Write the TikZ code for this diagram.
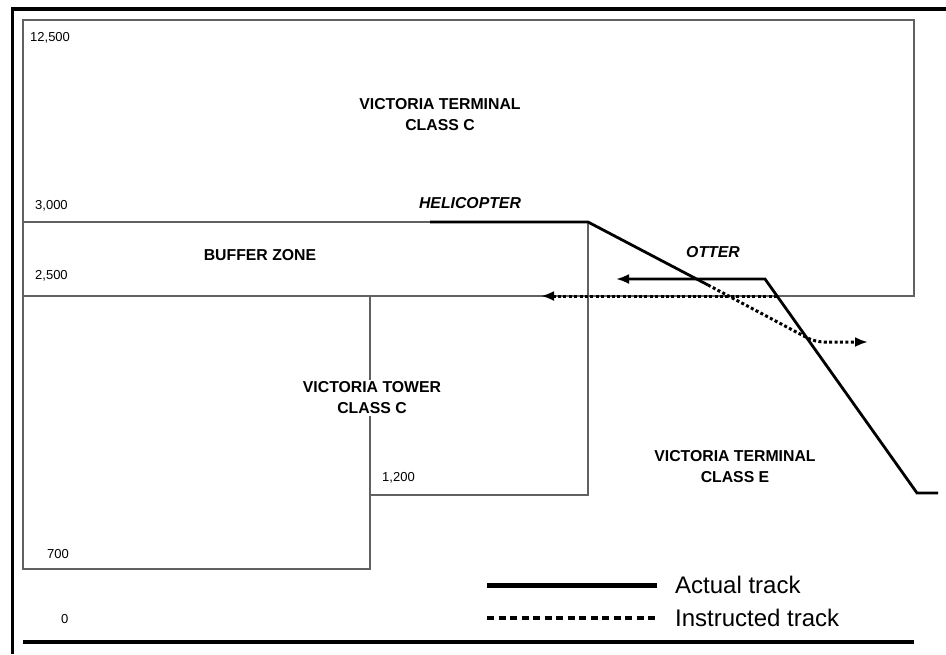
\documentclass[tikz,border=0pt]{standalone}
\usepackage{fontspec}
\setmainfont{Liberation Sans}
\usetikzlibrary{positioning,arrows.meta}

\begin{document}
\begin{tikzpicture}[
  x=1pt, y=-1pt,
  >={Latex[length=13pt,width=10pt]},
  frame/.style={line width=3.6pt, line join=miter},
  zone/.style={draw=black!62, line width=1.1pt},
  actual/.style={line width=2.8pt, line join=miter},
  instructed/.style={line width=3pt, dash pattern=on 3pt off 2.4pt},
  zonelabel/.style={font=\fontsize{15.8}{21}\selectfont\bfseries, align=center, inner sep=2pt},
  acftlabel/.style={font=\fontsize{15.8}{19}\selectfont\bfseries\itshape, inner sep=1pt},
  alt/.style={font=\fontsize{13}{15}\selectfont, anchor=west, inner sep=0pt},
  legtext/.style={font=\fontsize{24}{26}\selectfont, anchor=west, inner sep=0pt},
  node distance=18pt
]
  \useasboundingbox (0,0) rectangle (946,654);
  \draw[frame] (12.5,654) -- (12.5,9) -- (946,9);

  % airspace
  \draw[zone] (23,20) rectangle (914,296);
  \draw[zone] (23,222) -- (588,222) -- (588,495) -- (370,495);
  \draw[zone] (23,296) -- (23,569) -- (370,569) -- (370,296);
  \draw[line width=3.4pt] (23,642) -- (914,642);

  \node[alt] (a12500) at (30,38) {12,500};
  \node[alt] (a3000) at (35,206) {3,000};
  \node[alt] (a2500) at (35,276) {2,500};
  \node[alt] (a700) at (47,554) {700};
  \node[alt] (a0) at (61,619) {0};
  \node[alt] (a1200) at (382,478) {1,200};

  \node[zonelabel] (termc) at (440,115) {VICTORIA TERMINAL\\CLASS C};
  \node[zonelabel] (buffer) at (260,255) {BUFFER ZONE};
  \node[zonelabel, fill=white] (tower) at (372,398) {VICTORIA TOWER\\CLASS C};
  \node[zonelabel] (terme) at (735,467) {VICTORIA TERMINAL\\CLASS E};
  \node[acftlabel] (heli) at (470,203) {HELICOPTER};
  \node[acftlabel] (otter) at (713,252) {OTTER};

  % tracks
  \coordinate (hstart) at (430,222);
  \coordinate (hturn) at (588,222);
  \coordinate (hsplit) at (708,285);
  \coordinate (hlevel) at (815,342);
  \coordinate (hend) at (868,342);
  \coordinate (ostart) at (938,493);
  \coordinate (obase) at (917,493);
  \coordinate (olevel) at (765,279);
  \coordinate (oend) at (616,279);
  \coordinate (oistart) at (777,296);
  \coordinate (oiend) at (541,296);

  \draw[actual] (hstart) -- (hturn) -- (hsplit);
  \draw[instructed, rounded corners=9pt, ->] (hsplit) -- (hlevel) -- (hend);
  \draw[actual, ->] (ostart) -- (obase) -- (olevel) -- (oend);
  \draw[instructed, ->] (oistart) -- (oiend);

  % legend
  \coordinate (lega) at (487,585);
  \coordinate (legi) at (487,618);
  \draw[line width=5pt] (lega) -- ++(170,0) coordinate (legaend);
  \draw[line width=4.5pt, dash pattern=on 7pt off 4.5pt] (legi) -- ++(170,0) coordinate (legiend);
  \node[legtext, right=of legaend] (actlbl) {Actual track};
  \node[legtext, right=of legiend] (inslbl) {Instructed track};
\end{tikzpicture}
\end{document}
